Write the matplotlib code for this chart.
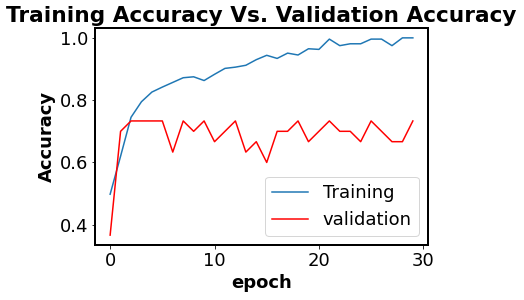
import matplotlib
matplotlib.use("Agg")
import matplotlib.pyplot as plt
import numpy as np

# accuracy per epoch
epochs = np.arange(30)
train_acc = [0.498, 0.62, 0.745, 0.795, 0.826, 0.842, 0.857, 0.872, 0.875, 0.863,
             0.883, 0.902, 0.906, 0.912, 0.930, 0.944, 0.934, 0.951, 0.945, 0.965,
             0.963, 0.996, 0.975, 0.981, 0.981, 0.996, 0.996, 0.975, 1.0, 1.0]
val_acc = [0.3667, 0.7, 0.7333, 0.7333, 0.7333, 0.7333, 0.6333, 0.7333, 0.7, 0.7333,
           0.6667, 0.7, 0.7333, 0.6333, 0.6667, 0.6, 0.7, 0.7, 0.7333, 0.6667,
           0.7, 0.7333, 0.7, 0.7, 0.6667, 0.7333, 0.7, 0.6667, 0.6667, 0.7333]

plt.rcParams['font.size'] = 18

fig = plt.figure(figsize=(524 / 72, 300 / 72), dpi=72)
ax = fig.add_axes([95 / 524, 1 - 245 / 300, (428 - 95) / 524, (245 - 28) / 300])

ax.plot(epochs, train_acc, label='Training')
ax.plot(epochs, val_acc, color='red', label='validation')

ax.set_title('Training Accuracy Vs. Validation Accuracy', fontweight='bold')
ax.set_xlabel('epoch', fontweight='bold')
ax.set_ylabel('Accuracy', fontweight='bold')
ax.set_xticks([0, 10, 20, 30])
ax.set_yticks([0.4, 0.6, 0.8, 1.0])
for s in ax.spines.values():
    s.set_linewidth(2)
ax.legend(loc='lower right')

fig.savefig('out.png', dpi=72)
